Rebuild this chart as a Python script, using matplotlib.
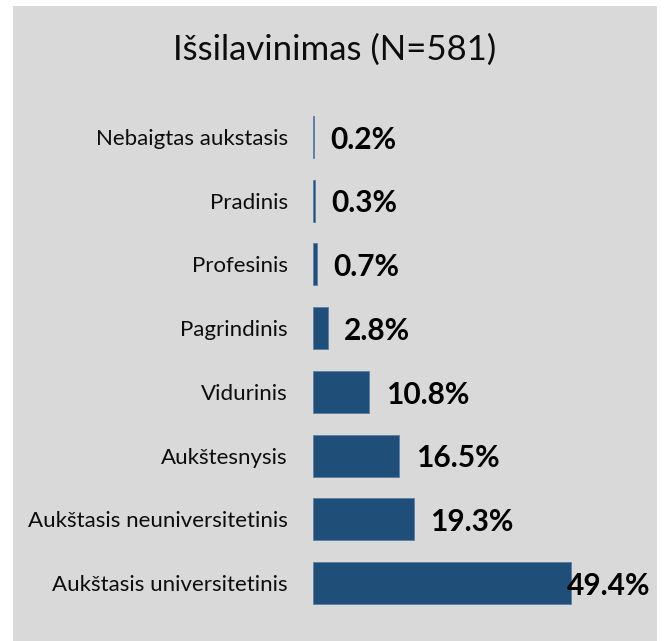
import matplotlib.pyplot as plt
from matplotlib.patches import Rectangle

# data (top to bottom as shown)
categories = ["Nebaigtas aukstasis", "Pradinis", "Profesinis", "Pagrindinis",
              "Vidurinis", "Aukštesnysis", "Aukštasis neuniversitetinis",
              "Aukštasis universitetinis"]
shares = [0.2, 0.3, 0.7, 2.8, 10.8, 16.5, 19.3, 49.4]
title = "Išsilavinimas (N=581)"

plt.rcParams["font.family"] = ["Lato", "DejaVu Sans"]

W, H = 664, 641
fig = plt.figure(figsize=(W / 100, H / 100), dpi=100)
fig.patch.set_facecolor("white")

# gray panel behind everything
panel = Rectangle((13 / W, 0), (657 - 13) / W, (641 - 6) / H,
                  transform=fig.transFigure, facecolor="#D9D9D9",
                  edgecolor="none", zorder=-10)
fig.add_artist(panel)

ax = fig.add_axes([313 / W, 26 / H, 313 / W, 510 / H])
ax.set_facecolor("none")
ax.set_zorder(1)

ypos = range(len(categories))
ax.barh(ypos, shares, height=0.66, color="#1F4E79", edgecolor="#5B7FA6",
        linewidth=0.6)
ax.set_xlim(0, 60)
ax.set_ylim(-0.5, len(categories) - 0.5)
ax.invert_yaxis()

ax.set_yticks(list(ypos))
ax.set_yticklabels(categories, fontsize=16, color="#0D0D0D")
ax.tick_params(axis="y", length=0, pad=18)
ax.set_xticks([])
for s in ax.spines.values():
    s.set_visible(False)

for y, v in zip(ypos, shares):
    dx = -3 if v > 40 else 12
    ax.annotate(f"{v:.1f}%", xy=(v, y), xytext=(dx, -2),
                textcoords="offset points", ha="left", va="center",
                fontsize=21.5, fontweight="bold", color="black")

fig.text(335 / W, 1 - 50 / H, title, ha="center", va="center", fontsize=25,
         color="#0D0D0D", zorder=2)

plt.savefig("out.png", dpi=100)
